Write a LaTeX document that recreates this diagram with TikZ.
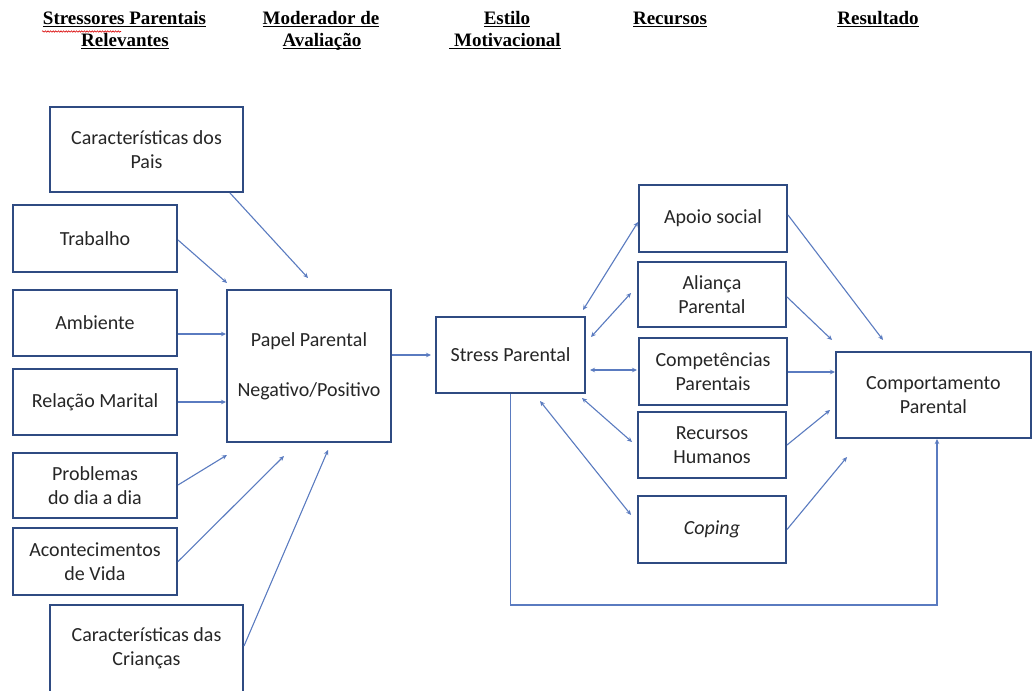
\documentclass[tikz,border=0pt]{standalone}
\usepackage{fontspec}
\setmainfont{Carlito}
\newfontfamily\hdfont{Liberation Serif}
\usetikzlibrary{arrows.meta,decorations.pathmorphing,calc}
\definecolor{boxc}{HTML}{2F4B82}
\definecolor{arrc}{HTML}{5A7BC0}
\definecolor{txtc}{HTML}{262626}
\newcommand{\hdul}[1]{\underline{\smash{#1}}}
\begin{document}
\begin{tikzpicture}[x=1pt,y=-1pt,
  box/.style={draw=boxc, line width=2pt, fill=white, align=center, text=txtc,
    font=\fontsize{20}{24}\selectfont, inner sep=0pt},
  arr/.style={draw=arrc, line width=1.1pt, -{Stealth[length=5pt,width=4.5pt]}},
  darr/.style={draw=arrc, line width=1.1pt, {Stealth[length=5pt,width=4.5pt]}-{Stealth[length=5pt,width=4.5pt]}},
  hd/.style={anchor=base, inner sep=0pt, text=black, font=\hdfont\bfseries\fontsize{19}{22}\selectfont}]
\path[use as bounding box] (0,0) rectangle (1032,690);
\clip (0,0) rectangle (1032,690);
\fill[white] (0,0) rectangle (1032,690);

% headers
\node[hd] (h1a) at (124.5,25) {\hdul{Stressores Parentais}};
\node[hd] (h1b) at (125,47) {\hdul{Relevantes}};
\node[hd] (h2a) at (321,25) {\hdul{Moderador de}};
\node[hd] (h2b) at (322,47) {\hdul{Avaliação}};
\node[hd] (h3a) at (507,25) {\hdul{Estilo}};
\node[hd] (h3b) at (505,47) {\hdul{\ Motivacional}};
\node[hd] (h4) at (670,25) {\hdul{Recursos}};
\node[hd] (h5) at (878,25) {\hdul{Resultado}};
\draw[red!85!black, line width=0.6pt, decorate, decoration={snake, amplitude=0.7pt, segment length=2.6pt}] (42,31.5) -- (121,31.5);

% left boxes
\node[box, minimum width=193pt, minimum height=85pt] (pais) at (146.5,149.5) {Características dos\\Pais};
\node[box, minimum width=164pt, minimum height=67pt] (trab) at (95,238.5) {Trabalho};
\node[box, minimum width=164pt, minimum height=66pt] (amb) at (95,323) {Ambiente};
\node[box, minimum width=164pt, minimum height=66pt] (rel) at (95,402) {Relação Marital};
\node[box, minimum width=164pt, minimum height=65pt] (prob) at (95,485.5) {Problemas\\do dia a dia};
\node[box, minimum width=164pt, minimum height=67pt] (acon) at (95,561.5) {Acontecimentos\\de Vida};
\node[box, minimum width=193pt, minimum height=87pt] (cria) at (146.5,648.5) {Características das\\Crianças};

% middle
\node[box, minimum width=164pt, minimum height=152pt] (papel) at (309,366) {Papel Parental\\[26pt]Negativo/Positivo};
\node[box, minimum width=149pt, minimum height=76pt] (stress) at (510.5,355) {Stress Parental};

% resources
\node[box, minimum width=148pt, minimum height=67pt] (apoio) at (713,218.5) {Apoio social};
\node[box, minimum width=148pt, minimum height=65pt] (alianca) at (712,294.5) {Aliança\\Parental};
\node[box, minimum width=148pt, minimum height=67pt] (comp) at (713,371.5) {Competências\\Parentais};
\node[box, minimum width=148pt, minimum height=66pt] (rh) at (712,445) {Recursos\\Humanos};
\node[box, minimum width=148pt, minimum height=67pt] (coping) at (712,529.5) {\itshape Coping};

% result
\node[box, minimum width=195pt, minimum height=86pt] (comport) at (933.5,395) {Comportamento\\Parental};

% free ends
\coordinate (ePais) at (308,278);
\coordinate (eTrab) at (227,283);
\coordinate (eProb) at (227,455);
\coordinate (eAcon) at (284,456);
\coordinate (eCria) at (328,450);
\coordinate (sApoio) at (583,310);
\coordinate (eApoio) at (638,222);
\coordinate (sAli) at (591,337);
\coordinate (eAli) at (631,293);
\coordinate (sComp) at (590,370);
\coordinate (eComp) at (637,370);
\coordinate (sRh) at (582,398);
\coordinate (eRh) at (632,442);
\coordinate (sCop) at (540,401);
\coordinate (eCop) at (631,515);
\coordinate (rApoio) at (883,340);
\coordinate (rAli) at (832,340);
\coordinate (rRh) at (830,410);
\coordinate (rCop) at (847,457);
\coordinate (fb) at (700,605);

% arrows into Papel Parental
\draw[arr] (230,0 |- pais.south) -- (ePais);
\draw[arr] (trab.east |- 0,240) -- (eTrab);
\draw[arr] (amb.east |- 0,334) -- (papel.west |- 0,334);
\draw[arr] (rel.east) -- (papel.west |- rel.east);
\draw[arr] (prob.east |- 0,485) -- (eProb);
\draw[arr] (acon.east) -- (eAcon);
\draw[arr] (cria.east |- 0,646) -- (eCria);

% Papel -> Stress
\draw[arr] (papel.east |- stress.west) -- ([xshift=-4pt]stress.west);

% Stress <-> resources
\draw[darr] (sApoio) -- (eApoio);
\draw[darr] (sAli) -- (eAli);
\draw[darr] (sComp) -- (eComp);
\draw[darr] (sRh) -- (eRh);
\draw[darr] (sCop) -- (eCop);

% resources -> Comportamento
\draw[arr] (apoio.east |- 0,215) -- (rApoio);
\draw[arr] (alianca.east |- 0,297) -- (rAli);
\draw[arr] (comp.east |- 0,372) -- (comport.west |- 0,372);
\draw[arr] (rh.east) -- (rRh);
\draw[arr] (coping.east) -- (rCop);

% feedback
\draw[arr] (stress.south) -- (stress.south |- fb) -| (937,0 |- comport.south);
\end{tikzpicture}
\end{document}
